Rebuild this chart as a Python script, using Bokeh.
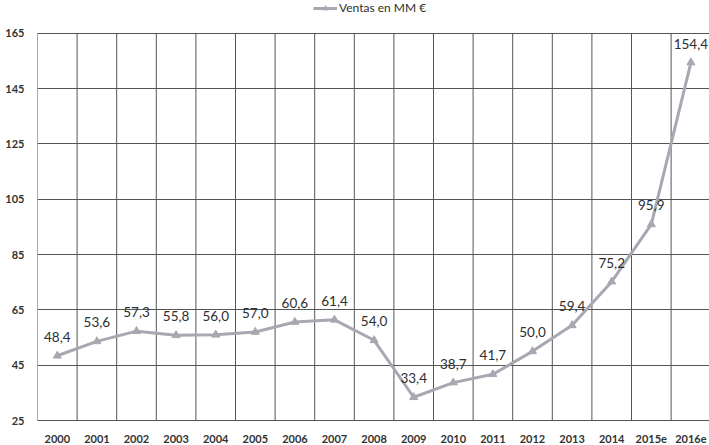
from bokeh.plotting import figure
from bokeh.models import ColumnDataSource, FixedTicker, Legend, LegendItem
from bokeh.core.properties import value
from bokeh.embed import file_html
from bokeh.resources import INLINE

years = ["2000", "2001", "2002", "2003", "2004", "2005", "2006", "2007", "2008",
         "2009", "2010", "2011", "2012", "2013", "2014", "2015e", "2016e"]
ventas = [48.4, 53.6, 57.3, 55.8, 56.0, 57.0, 60.6, 61.4, 54.0,
          33.4, 38.7, 41.7, 50.0, 59.4, 75.2, 95.9, 154.4]
y_ticks = [25, 45, 65, 85, 105, 125, 145, 165]
serie = "Ventas en MM €"

idx = list(range(len(years)))
src = ColumnDataSource(dict(
    x=idx, y=ventas,
    lab=[f"{v:.1f}".replace(".", ",") for v in ventas],
))

FONT = "Lato"
GRAY = "#a8a8b2"
GRID = "#555555"

W, H = 709, 445
LEFT, TOP_GRID, BOTTOM = 37, 33, 22
frame_h = H - BOTTOM
y0, y1 = y_ticks[0], y_ticks[-1]
ppu = (frame_h - TOP_GRID) / (y1 - y0)
y_top = y1 + TOP_GRID / ppu
col_w = 39.6
x_end = -0.5 + (W - LEFT) / col_w

p = figure(width=W, height=H, output_backend="svg", toolbar_location=None,
           x_range=(-0.5, x_end), y_range=(y0, y_top),
           min_border_left=LEFT, min_border_right=0, min_border_top=0,
           min_border_bottom=BOTTOM)
p.outline_line_color = None
p.background_fill_color = "white"

# grid
p.xgrid.grid_line_color = None
p.ygrid.ticker = FixedTicker(ticks=y_ticks)
p.ygrid.grid_line_color = GRID
p.ygrid.grid_line_width = 1
bounds = [i - 0.5 for i in idx] + [len(idx) - 0.5]
p.segment(x0=bounds, y0=[y0] * len(bounds), x1=bounds, y1=[y1] * len(bounds),
          line_color=GRID, line_width=1)

# axes
p.xaxis.ticker = FixedTicker(ticks=idx)
p.xaxis.major_label_overrides = {i: y for i, y in enumerate(years)}
p.yaxis.ticker = FixedTicker(ticks=y_ticks)
for ax in (p.xaxis[0], p.yaxis[0]):
    ax.major_tick_line_color = None
    ax.minor_tick_line_color = None
    ax.major_label_text_font = FONT
    ax.major_label_text_font_style = "bold"
    ax.major_label_text_font_size = "11px"
    ax.major_label_text_color = "#333333"
p.xaxis.axis_line_color = GRID
p.yaxis.axis_line_color = None
p.xaxis.major_label_standoff = 8
p.yaxis.major_label_standoff = 7

ln = p.line("x", "y", source=src, line_color=GRAY, line_width=3)
mk = p.scatter("x", "y", source=src, marker="triangle", size=8,
               fill_color=GRAY, line_color=GRAY)

p.text("x", "y", text="lab", source=src, text_align="center", text_baseline="middle",
       y_offset=-19, text_font=value(FONT), text_font_size="13.5px", text_color="#2e2e2e")

legend = Legend(items=[LegendItem(label=serie, renderers=[ln, mk])],
                location=(276, frame_h - 18), orientation="horizontal",
                label_text_font=FONT, label_text_font_size="12px",
                label_text_color="#2e2e2e", glyph_width=24, glyph_height=12,
                label_height=12, padding=0, margin=0, spacing=0, label_standoff=2,
                border_line_color=None, background_fill_alpha=0)
p.add_layout(legend, "center")

open("out.html", "w").write(file_html(p, INLINE))
